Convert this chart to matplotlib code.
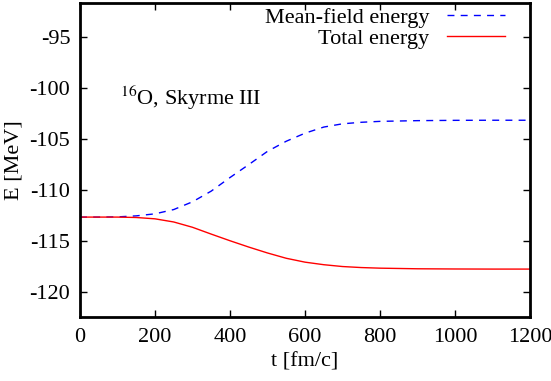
import matplotlib
matplotlib.use("Agg")
import matplotlib.pyplot as plt

t = [0, 50, 100, 150, 200, 250, 300, 350, 400, 450, 500, 550, 600, 650, 700, 750, 800, 900, 1000, 1100, 1200]
mean_field = [-112.7, -112.7, -112.68, -112.58, -112.38, -111.96, -111.2, -110.15, -108.82, -107.55,
              -106.25, -105.26, -104.47, -103.87, -103.55, -103.4, -103.31, -103.24, -103.21, -103.2, -103.2]
total = [-112.7, -112.7, -112.7, -112.74, -112.87, -113.18, -113.7, -114.37, -115.02, -115.64,
         -116.22, -116.74, -117.12, -117.37, -117.55, -117.65, -117.71, -117.77, -117.79, -117.8, -117.8]

plt.rcParams['font.family'] = ['Liberation Serif', 'DejaVu Serif']
plt.rcParams['mathtext.fontset'] = 'stix'
plt.rcParams['axes.unicode_minus'] = False

fig = plt.figure(figsize=(5.51, 3.81), dpi=100)
ax = fig.add_axes([80/551, 1-317/381, 450/551, 314/381])

ax.plot(t, mean_field, color='#0000ff', ls=(0, (5, 4.5)), lw=1.0, label='Mean-field energy')
ax.plot(t, total, color='#ff0000', ls='-', lw=1.0, label='Total energy')

ax.set_xlim(0, 1200)
ax.set_ylim(-122.5, -91.7)
ax.set_xticks([0, 200, 400, 600, 800, 1000, 1200])
ax.set_yticks([-95, -100, -105, -110, -115, -120])
ax.tick_params(direction='in', top=True, right=True, length=5, width=1, labelsize=16)
ax.tick_params(axis='x', pad=8)
ax.tick_params(axis='y', pad=7)
for s in ax.spines.values():
    s.set_linewidth(2)
ax.set_xlabel('t [fm/c]', fontsize=16, labelpad=4)
ax.set_ylabel('E [MeV]', fontsize=16, labelpad=4)
ax.text(108, -101, r'$^{16}$O, Skyrme III', fontsize=16, va='center', ha='left')
leg = ax.legend(loc='upper right', bbox_to_anchor=(0.944, 0.985), frameon=False,
                markerfirst=False, fontsize=16, handlelength=2.6, borderpad=0.0,
                labelspacing=0.0, handletextpad=0.8, borderaxespad=0.0)
fig.savefig('out.png', dpi=100)
